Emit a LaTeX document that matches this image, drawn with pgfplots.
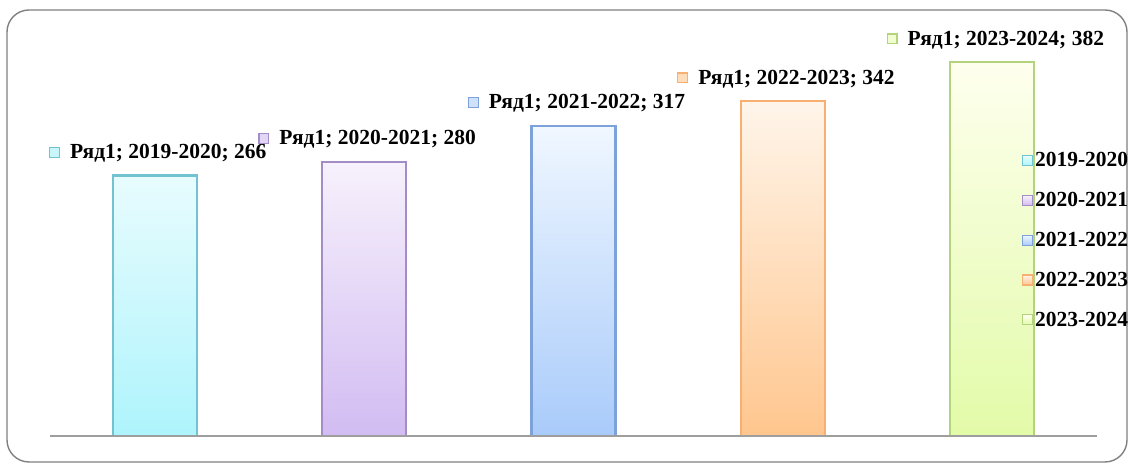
\documentclass[border=0pt]{standalone}
\usepackage{pgfplots}
\pgfplotsset{compat=1.18}
\usepackage{fontspec}
\setmainfont{Liberation Serif}
\definecolor{t1}{HTML}{E8FCFE}\definecolor{b1}{HTML}{AEF4FC}\definecolor{d1}{HTML}{72C2D2}
\definecolor{t2}{HTML}{F7F1FC}\definecolor{b2}{HTML}{D2BCF2}\definecolor{d2}{HTML}{A48CC6}
\definecolor{t3}{HTML}{F0F7FF}\definecolor{b3}{HTML}{A9CBFA}\definecolor{d3}{HTML}{7DA2D9}
\definecolor{t4}{HTML}{FFF5EA}\definecolor{b4}{HTML}{FFC68E}\definecolor{d4}{HTML}{F8B072}
\definecolor{t5}{HTML}{FEFFEE}\definecolor{b5}{HTML}{E2FBA8}\definecolor{d5}{HTML}{B3D47C}
\definecolor{m1}{HTML}{C8F6FB}\definecolor{m2}{HTML}{E2D6F6}\definecolor{m3}{HTML}{CFE0FB}
\definecolor{m4}{HTML}{FFDDBB}\definecolor{m5}{HTML}{F0FDD0}
\newcommand{\lm}[2]{{\setlength{\fboxsep}{0pt}\setlength{\fboxrule}{1.3pt}\raisebox{2pt}{\fcolorbox{#1}{#2}{\rule{0pt}{8.5pt}\rule{8.5pt}{0pt}}}}\hspace{10pt}}
\begin{document}
\begin{tikzpicture}[x=1pt,y=1pt]
\useasboundingbox (0,0) rectangle (1130,465);
\draw[draw=black!50, line width=1.4pt, rounded corners=22pt] (7,3) rectangle (1127,455);
\begin{axis}[
  at={(50pt,29pt)}, anchor=south west,
  scale only axis, width=1047pt, height=391.6pt,
  xmin=-0.5, xmax=4.5, ymin=0, ymax=400,
  ybar, clip=false, axis on top,
  axis x line=bottom, axis y line=none,
  axis line style={draw=black!38, line width=2.2pt, -},
  xtick=\empty, ytick=\empty,
  /pgf/number format/assume math mode=true,
  font=\bfseries\fontsize{21.5}{25}\selectfont,
  every node near coord/.append style={anchor=base, yshift=17pt, xshift=3pt, text=black, font=\bfseries\fontsize{21.5}{25}\selectfont},
  legend style={at={(0.927,0.500)}, anchor=west, draw=none, fill=none, row sep=20pt, inner xsep=1pt, font=\bfseries\fontsize{21.5}{25}\selectfont},
  legend cell align=left,
  legend image code/.code={\draw[#1, line width=1.3pt] (0pt,-5pt) rectangle (10pt,5pt);},
  /tikz/every even column/.append style={column sep=0pt},
]
\addplot[bar width=84pt, bar shift=0pt, top color=t1, bottom color=b1, draw=d1, line width=2.2pt,
  nodes near coords={\lm{d1}{m1}Ряд1; 2019-2020; \pgfmathprintnumber{\pgfplotspointmeta}}] coordinates {(0,266)};
\addplot[bar width=84pt, bar shift=0pt, top color=t2, bottom color=b2, draw=d2, line width=2.2pt,
  nodes near coords={\lm{d2}{m2}Ряд1; 2020-2021; \pgfmathprintnumber{\pgfplotspointmeta}}] coordinates {(1,280)};
\addplot[bar width=84pt, bar shift=0pt, top color=t3, bottom color=b3, draw=d3, line width=2.2pt,
  nodes near coords={\lm{d3}{m3}Ряд1; 2021-2022; \pgfmathprintnumber{\pgfplotspointmeta}}] coordinates {(2,317)};
\addplot[bar width=84pt, bar shift=0pt, top color=t4, bottom color=b4, draw=d4, line width=2.2pt,
  nodes near coords={\lm{d4}{m4}Ряд1; 2022-2023; \pgfmathprintnumber{\pgfplotspointmeta}}] coordinates {(3,342)};
\addplot[bar width=84pt, bar shift=0pt, top color=t5, bottom color=b5, draw=d5, line width=2.2pt,
  nodes near coords={\lm{d5}{m5}Ряд1; 2023-2024; \pgfmathprintnumber{\pgfplotspointmeta}}] coordinates {(4,382)};
\legend{2019-2020,2020-2021,2021-2022,2022-2023,2023-2024}
\end{axis}
\end{tikzpicture}
\end{document}
